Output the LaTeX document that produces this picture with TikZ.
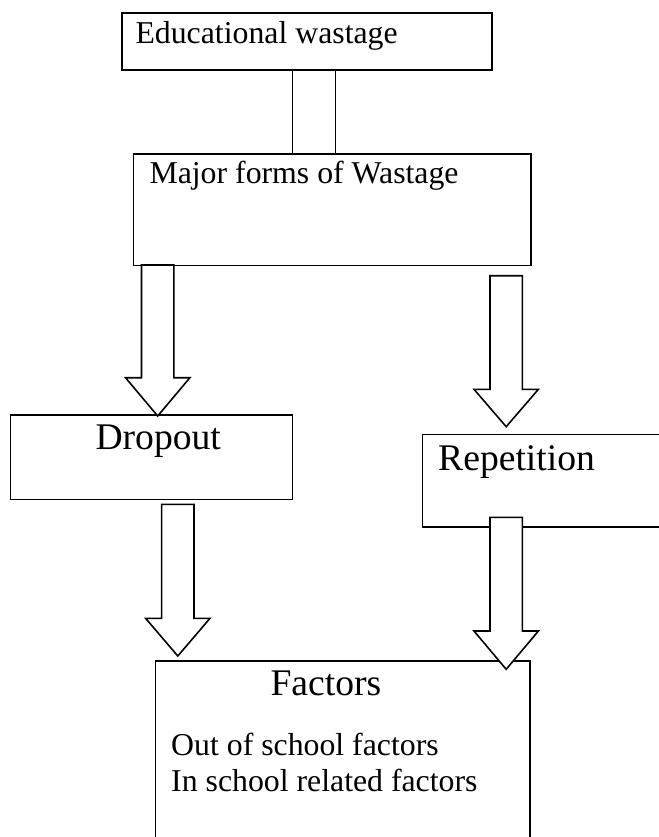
\documentclass[tikz,border=0pt]{standalone}
\usepackage{fontspec}
\setmainfont{Liberation Serif}
\begin{document}
\begin{tikzpicture}[x=0.3775pt,y=-0.3775pt,
  boxstyle/.style={draw,line width=0.6pt,rectangle,inner sep=0pt},
  lbl/.style={inner sep=0pt,anchor=base west,font=\fontsize{12}{14}\selectfont},
  biglbl/.style={inner sep=0pt,anchor=base west,font=\fontsize{14.2}{17}\selectfont},
  arrowbody/.style={draw,fill=white,line width=0.6pt,line join=miter}]
\useasboundingbox (0,0) rectangle (658,837);
% boxes
\draw[boxstyle] (122,13) rectangle (492,70);
\coordinate (b1) at (307,70);
\draw[boxstyle] (133.7,154) rectangle (531,265.7);
\draw[boxstyle] (10.7,415) rectangle (292.3,499.3);
\draw[boxstyle] (422.7,434.3) rectangle (720,526.7);
\draw[boxstyle] (155.7,661) rectangle (530,900);
% texts
\node[lbl] (t1) at (135,43.5) {Educational wastage};
\node[lbl] (t2) at (149,183) {Major forms of Wastage};
\node[biglbl] (t3) at (95,449.3) {Dropout};
\node[biglbl] (t4) at (437.7,470) {Repetition};
\node[biglbl] (t5) at (270,695) {Factors};
\node[lbl] (t6) at (170.7,755) {Out of school factors};
\node[lbl] (t7) at (170.7,791.7) {In school related factors};
% shaft between first two boxes
\coordinate (s1a) at (292.7,70);
\coordinate (s1b) at (292.7,154);
\coordinate (s2a) at (335.7,70);
\coordinate (s2b) at (335.7,154);
\draw[line width=0.6pt] (s1a) -- (s1b);
\draw[line width=0.6pt] (s2a) -- (s2b);
% block arrows: centre x, top, shoulder, tip
\newcommand\blockarrow[4]{%
  \draw[arrowbody] (#1-16.2,#2) -- (#1+16.2,#2) -- (#1+16.2,#3) -- (#1+32.2,#3)
    -- (#1,#4) -- (#1-32.2,#3) -- (#1-16.2,#3) -- cycle;}
\blockarrow{157.7}{265}{377.7}{416}
\blockarrow{506.2}{275.7}{389.3}{426.7}
\blockarrow{177.8}{504.3}{618.3}{656}
\blockarrow{506.2}{517.3}{631}{669.3}
\end{tikzpicture}
\end{document}
